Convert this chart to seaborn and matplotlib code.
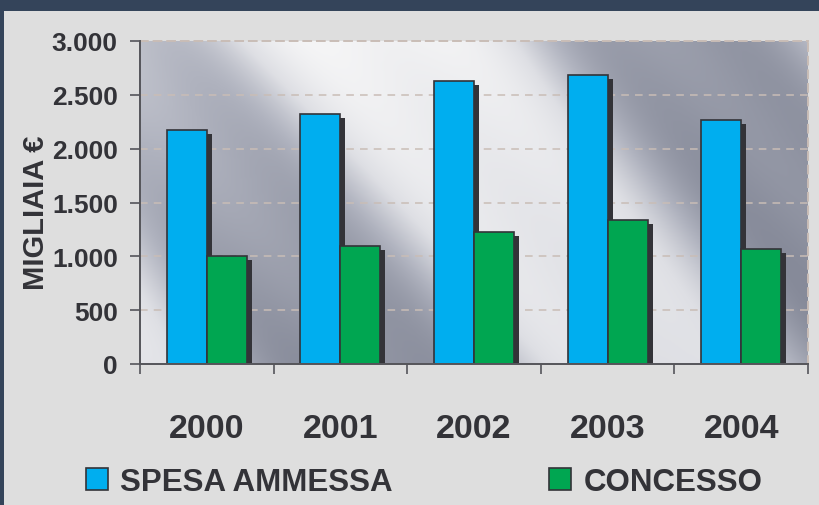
import matplotlib
matplotlib.use("Agg")
import matplotlib.pyplot as plt
import matplotlib.patches as mpatches
import matplotlib.transforms as mtransforms
from matplotlib.colors import LinearSegmentedColormap
from matplotlib.ticker import FuncFormatter, FixedLocator
import numpy as np
import pandas as pd
import seaborn as sns

# ── data ──────────────────────────────────────────────────────────────────
years = ["2000", "2001", "2002", "2003", "2004"]
spesa_ammessa = [2170, 2320, 2625, 2680, 2270]
concesso = [1000, 1100, 1225, 1335, 1065]
series_names = ["SPESA AMMESSA", "CONCESSO"]
y_ticks = [0, 500, 1000, 1500, 2000, 2500, 3000]

BLUE = "#00AEEF"
GREEN = "#00A651"
DARK = "#333338"
GRID = "#C9BDB6"

df = pd.DataFrame({
    "anno": years * 2,
    "valore": spesa_ammessa + concesso,
    "serie": [series_names[0]] * len(years) + [series_names[1]] * len(years),
})

sns.set_theme(style="white")
plt.rcParams["font.family"] = ["Liberation Sans", "DejaVu Sans"]
plt.rcParams["font.weight"] = "bold"

fig = plt.figure(figsize=(8.19, 5.06), dpi=100, facecolor="#34445a")

# light grey panel behind the chart
panel = mpatches.Rectangle((4 / 819, 0), 1, (506 - 12) / 506,
                           transform=fig.transFigure, facecolor="#DEDEDE",
                           edgecolor="none", zorder=-5)
fig.patches.append(panel)

ax = fig.add_axes([140 / 819, (506 - 365) / 506, 668 / 819, 323 / 506])
ax.set_zorder(5)

# brushed-metal backdrop of the plotting area (decoration only)
u, v = np.meshgrid(np.linspace(0, 1, 300), np.linspace(0, 1, 200))
metal = (0.55
         + 0.25 * np.sin(2 * np.pi * (1.2 * u + 0.45 * v) + 2.2)
         + 0.06 * np.sin(2 * np.pi * (3.5 * u + 1.4 * v) + 0.4)
         + 0.25 * (1 - u) * v)
metal = np.clip(metal, 0, 1)
metal_cmap = LinearSegmentedColormap.from_list(
    "metal", ["#868A99", "#B0B3BF", "#DEDFE4", "#F5F5F6"])
ax.imshow(metal, extent=(0, 1, 0, 1), transform=ax.transAxes, cmap=metal_cmap,
          aspect="auto", origin="lower", zorder=0, interpolation="bicubic")

sns.barplot(data=df, x="anno", y="valore", hue="serie",
            palette=[BLUE, GREEN], width=0.6, edgecolor=DARK, linewidth=1.2,
            saturation=1, legend=False, ax=ax, zorder=3)

# drop shadows derived from each drawn bar
shadow_shift = mtransforms.ScaledTranslation(5 / 100, -4 / 100, fig.dpi_scale_trans)
for bar in list(ax.patches):
    shadow = mpatches.Rectangle((bar.get_x(), bar.get_y()), bar.get_width(),
                                bar.get_height(), facecolor=DARK,
                                edgecolor="none",
                                transform=ax.transData + shadow_shift,
                                zorder=2)
    ax.add_patch(shadow)

ax.set_xlim(-0.5, len(years) - 0.5)
ax.set_ylim(0, 3000)
ax.yaxis.set_major_locator(FixedLocator(y_ticks))
ax.yaxis.set_major_formatter(
    FuncFormatter(lambda val, pos: f"{int(val):,}".replace(",", ".")))

for t in y_ticks[1:-1]:
    ax.axhline(t, color=GRID, linestyle=(0, (5, 4)), linewidth=1.1, zorder=1)

for side in ("top", "right"):
    ax.spines[side].set_color(GRID)
    ax.spines[side].set_linestyle((0, (4, 3)))
    ax.spines[side].set_linewidth(1.4)
for side in ("left", "bottom"):
    ax.spines[side].set_color("#55555a")
    ax.spines[side].set_linewidth(1.4)
    ax.spines[side].set_zorder(4)

ax.tick_params(axis="y", which="major", length=7, width=1.2, color="#55555a",
               direction="out", left=True, labelsize=19, labelcolor=DARK, pad=9)
ax.set_xticks(np.arange(-0.5, len(years)), minor=True)
ax.tick_params(axis="x", which="minor", length=7, width=1.2, color="#55555a",
               direction="out", bottom=True)
ax.tick_params(axis="x", which="major", length=0, labelsize=24.5,
               labelcolor=DARK, pad=35)
for lbl in ax.get_xticklabels() + ax.get_yticklabels():
    lbl.set_fontweight("bold")

ax.set_xlabel("")
ax.set_ylabel("MIGLIAIA €", fontsize=21, fontweight="bold", color=DARK)
ax.yaxis.set_label_coords(-0.135, 0.47)

handles = [mpatches.Patch(facecolor=c, edgecolor=DARK, linewidth=1.2, label=n)
           for c, n in zip([BLUE, GREEN], series_names)]
leg = fig.legend(handles=handles, loc="center", bbox_to_anchor=(0.518, 0.046),
                 ncol=2, frameon=False, fontsize=22.5, columnspacing=5.0,
                 handlelength=0.7, handleheight=0.7, handletextpad=0.4)
for txt in leg.get_texts():
    txt.set_color(DARK)
    txt.set_fontweight("bold")

fig.savefig("out.png", dpi=100, facecolor=fig.get_facecolor())
